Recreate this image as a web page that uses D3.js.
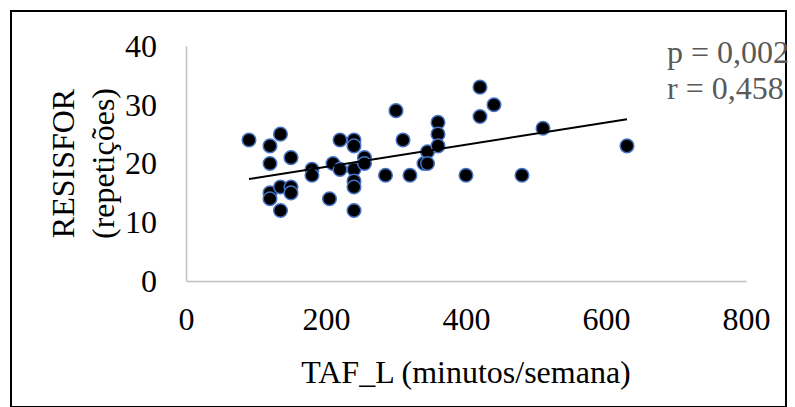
<!DOCTYPE html>
<html>
<head>
<meta charset="utf-8">
<script src="https://cdn.jsdelivr.net/npm/d3@7"></script>
<style>
  body { margin: 0; background: #fff; }
  text { font-family: "Liberation Serif", "Times New Roman", serif; }
</style>
</head>
<body>
<script>
// TAF_L (minutos/semana) vs RESISFOR (repeticoes)
var tafL = [90,120,120,120,120,135,135,135,150,150,150,180,180,205,210,220,220,
	240,240,240,240,240,240,255,255,285,300,310,320,340,345,345,360,360,360,
	400,420,420,440,480,510,630];
var resisfor = [24,23,20,15,14,25,16,12,21,16,15,19,18,14,20,24,19,
	24,23,19,17,16,12,21,20,18,29,24,18,20,22,20,27,25,23,
	18,33,28,30,18,26,23];
var xTicks = [0,200,400,600,800];
var yTicks = [0,10,20,30,40];
var statsLabels = ["p = 0,002","r = 0,458"];

var W = 795, H = 407;
var svg = d3.select("body").append("svg").attr("width", W).attr("height", H);

svg.append("rect").attr("x",11).attr("y",11).attr("width",775).attr("height",396)
	.attr("fill","none").attr("stroke","#000").attr("stroke-width",2);

var x = d3.scaleLinear().domain([0,800]).range([186,746]);
var y = d3.scaleLinear().domain([0,40]).range([281,46]);

var g = svg.append("g");

// axes (no tick marks, light grey lines like Excel)
var xAxis = g.append("g").attr("transform","translate(0,"+y(0)+")")
	.call(d3.axisBottom(x).tickValues(xTicks).tickSize(0).tickPadding(26));
var yAxis = g.append("g").attr("transform","translate("+x(0)+",0)")
	.call(d3.axisLeft(y).tickValues(yTicks).tickSize(0).tickPadding(29));
[xAxis,yAxis].forEach(function(a){
	a.select(".domain").attr("stroke","#bfbfbf").attr("stroke-width",1.5);
	a.selectAll("text").attr("font-size",32).attr("fill","#000")
		.style("font-family","'Liberation Serif', serif");
});
yAxis.selectAll("text").attr("dy","0.32em");

// least squares trend line
var n = tafL.length, mx = d3.mean(tafL), my = d3.mean(resisfor);
var sxy = d3.sum(tafL, function(v,i){ return (v-mx)*(resisfor[i]-my); });
var sxx = d3.sum(tafL, function(v){ return (v-mx)*(v-mx); });
var slope = sxy/sxx, icpt = my - slope*mx;
var xr = d3.extent(tafL);

g.selectAll(".dot").data(tafL).enter().append("circle").attr("class","dot")
	.attr("cx",function(d){ return x(d); })
	.attr("cy",function(d,i){ return y(resisfor[i]); })
	.attr("r",6.8)
	.attr("fill","#000").attr("stroke","#4472c4").attr("stroke-width",1.5);

g.append("line")
	.attr("x1",x(xr[0])).attr("y1",y(icpt+slope*xr[0]))
	.attr("x2",x(xr[1])).attr("y2",y(icpt+slope*xr[1]))
	.attr("stroke","#000").attr("stroke-width",2);

// stats
svg.selectAll(".stat").data(statsLabels).enter().append("text").attr("class","stat")
	.attr("x",667).attr("y",function(d,i){ return 63+i*36; })
	.attr("font-size",32).attr("fill","#595959").text(function(d){ return d; });

// titles
svg.append("text").attr("x",x(400)).attr("y",383).attr("text-anchor","middle")
	.attr("font-size",32).text("TAF_L (minutos/semana)");
var yt = svg.append("text").attr("transform","translate(0,"+((y(0)+y(40))/2)+") rotate(-90)")
	.attr("text-anchor","middle").attr("font-size",32);
yt.append("tspan").attr("x",0).attr("y",74).text("RESISFOR");
yt.append("tspan").attr("x",0).attr("y",114).text("(repetições)");
</script>
</body>
</html>
